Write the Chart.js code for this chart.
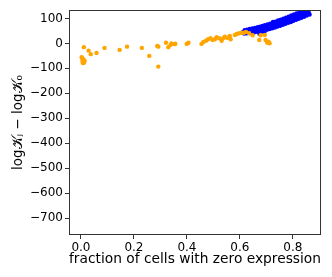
<!DOCTYPE html>
<html>
<head>
<meta charset="utf-8">
<script src="https://cdn.jsdelivr.net/npm/chart.js@4/dist/chart.umd.min.js"></script>
<style>
  html, body { margin: 0; padding: 0; background: #fff; }
  #wrap { width: 332px; height: 277px; }
</style>
</head>
<body>
<div id="wrap"><canvas id="scatterChart" width="332" height="277"></canvas></div>
<script>
// genes with few zero cells (orange) and the rest (blue)
const orangePoints = [
    [0.003, -55], [0.006, -62], [0.009, -68], [0.012, -74], [0.008, -79],
    [0.004, -58], [0.010, -64], [0.014, -70], [0.011, -77], [0.006, -72],
    [0.011, -15], [0.029, -29], [0.037, -43], [0.059, -38], [0.089, -18],
    [0.146, -26], [0.174, -13], [0.230, -18], [0.258, -50], [0.288, -10],
    [0.292, -13], [0.292, -93], [0.321, 3], [0.330, -15], [0.338, -6],
    [0.341, 0], [0.356, -1], [0.354, -3], [0.399, -2], [0.406, 3],
    [0.455, -2], [0.462, 6], [0.472, 11], [0.480, 17], [0.489, 21],
    [0.497, 14], [0.506, 17], [0.512, 25], [0.522, 21], [0.531, 11],
    [0.537, 21], [0.543, 27], [0.552, 23], [0.562, 30], [0.565, 17],
    [0.581, 34], [0.588, 38], [0.597, 41], [0.606, 43], [0.615, 43],
    [0.623, 46], [0.635, 41], [0.648, 33], [0.673, 14], [0.678, 33],
    [0.694, 34], [0.697, 14], [0.703, 3], [0.708, 7], [0.712, 1]
];
const bluePoints = [
    [0.612, 46], [0.616, 40], [0.618, 53], [0.620, 45], [0.623, 49],
    [0.625, 41], [0.627, 55], [0.630, 47], [0.632, 51], [0.635, 42],
    [0.637, 58], [0.640, 49], [0.642, 53], [0.645, 44], [0.647, 60],
    [0.650, 50], [0.652, 55], [0.655, 45], [0.657, 62], [0.660, 52],
    [0.662, 57], [0.665, 47], [0.667, 65], [0.670, 54], [0.672, 59],
    [0.674, 38], [0.676, 67], [0.678, 55], [0.680, 61], [0.683, 50],
    [0.685, 70], [0.687, 58], [0.690, 63], [0.692, 44], [0.694, 73],
    [0.697, 60], [0.699, 66], [0.702, 55], [0.704, 76], [0.707, 63],
    [0.709, 69], [0.712, 58], [0.714, 79], [0.717, 66], [0.719, 72],
    [0.722, 61], [0.724, 83], [0.725, 86], [0.727, 69], [0.729, 76],
    [0.732, 64], [0.734, 87], [0.737, 72], [0.739, 79], [0.742, 68],
    [0.744, 92], [0.747, 76], [0.749, 83], [0.752, 71], [0.754, 95],
    [0.757, 80], [0.759, 87], [0.760, 92], [0.762, 75], [0.764, 99],
    [0.767, 84], [0.769, 91], [0.772, 79], [0.774, 103], [0.777, 88],
    [0.779, 95], [0.782, 83], [0.784, 107], [0.787, 92], [0.789, 99],
    [0.792, 86], [0.794, 112], [0.795, 90], [0.797, 96], [0.799, 103],
    [0.802, 91], [0.804, 116], [0.807, 100], [0.809, 107], [0.812, 95],
    [0.814, 120], [0.817, 104], [0.819, 111], [0.822, 99], [0.824, 123],
    [0.827, 108], [0.829, 114], [0.832, 103], [0.834, 126], [0.837, 111],
    [0.839, 118], [0.842, 107], [0.844, 130], [0.847, 115], [0.849, 122],
    [0.852, 112], [0.854, 127], [0.857, 118], [0.860, 123], [0.863, 116]
];
const xTicks = [0.0, 0.2, 0.4, 0.6, 0.8];
const yTicks = [-700, -600, -500, -400, -300, -200, -100, 0, 100];

const toXY = pts => pts.map(p => ({ x: p[0], y: p[1] }));

// matplotlib style frame on all four sides
const framePlugin = {
    id: 'frame',
    afterDatasetsDraw(chart) {
        const { ctx, chartArea: a } = chart;
        ctx.save();
        ctx.strokeStyle = '#333';
        ctx.lineWidth = 1;
        ctx.strokeRect(a.left + 0.5, a.top + 0.5, a.right - a.left - 1, a.bottom - a.top - 1);
        ctx.restore();
    }
};

const tickFont = { family: 'DejaVu Sans', size: 12 };

new Chart(document.getElementById('scatterChart').getContext('2d'), {
    type: 'scatter',
    data: {
        datasets: [{
            data: toXY(orangePoints),
            backgroundColor: '#ffa500',
            borderWidth: 0,
            pointRadius: 2.2
        }, {
            data: toXY(bluePoints),
            backgroundColor: '#0000ff',
            borderWidth: 0,
            pointRadius: 2.2
        }]
    },
    options: {
        responsive: false,
        animation: false,
        layout: { padding: { top: 10, right: 11, left: 0, bottom: 0 } },
        plugins: {
            legend: { display: false },
            tooltip: { enabled: false }
        },
        scales: {
            x: {
                type: 'linear',
                min: -0.045,
                max: 0.906,
                afterBuildTicks: axis => { axis.ticks = xTicks.map(v => ({ value: v })); },
                afterFit: axis => { axis.height = 42; },
                border: { display: false },
                grid: { drawOnChartArea: false, drawTicks: true, tickLength: 4, color: '#333' },
                ticks: {
                    font: tickFont,
                    color: '#000',
                    padding: 2,
                    maxRotation: 0,
                    callback: v => v.toFixed(1)
                },
                title: {
                    display: true,
                    text: 'fraction of cells with zero expression',
                    font: { family: 'DejaVu Sans', size: 13.8 },
                    color: '#000',
                    padding: { top: 0, bottom: 9 }
                }
            },
            y: {
                type: 'linear',
                min: -768,
                max: 134,
                afterBuildTicks: axis => { axis.ticks = yTicks.map(v => ({ value: v })); },
                afterFit: axis => { axis.width = 69; },
                border: { display: false },
                grid: { drawOnChartArea: false, drawTicks: true, tickLength: 4, color: '#333' },
                ticks: {
                    font: tickFont,
                    color: '#000',
                    padding: 2,
                    callback: v => v < 0 ? '\u2212' + Math.abs(v) : String(v)
                },
                title: {
                    display: true,
                    text: 'log\u{1D4A6}\u2C7C \u2212 log\u{1D4A6}\u2080',
                    font: { family: 'DejaVu Sans', size: 13.5 },
                    color: '#000',
                    padding: { top: 10, bottom: 0 }
                }
            }
        }
    },
    plugins: [framePlugin]
});
</script>
</body>
</html>
